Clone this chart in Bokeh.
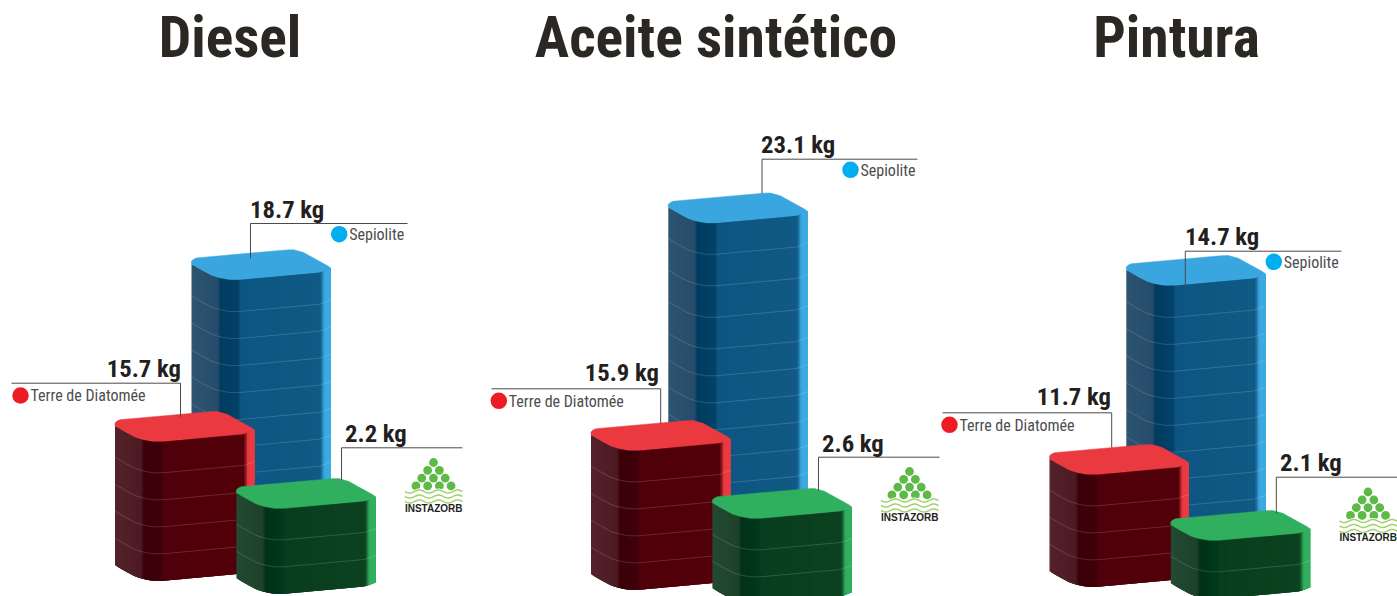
import numpy as np
from bokeh.plotting import figure
from bokeh.models import Range1d
from bokeh.core.properties import value
from bokeh.embed import file_html
from bokeh.resources import INLINE

# ---------- data ----------
panels = ["Diesel", "Aceite sintético", "Pintura"]
materials = ["Sepiolite", "Terre de Diatomée", "INSTAZORB"]
sepiolite_kg = [18.7, 23.1, 14.7]
diatomee_kg = [15.7, 15.9, 11.7]
instazorb_kg = [2.2, 2.6, 2.1]
# the drawn stacks are counted in layers, not scaled in kg
sepiolite_layers = [10, 12, 10]
diatomee_layers = [5, 5, 4]
instazorb_layers = [3, 3, 2]

# ---------- layout (pixels of the 1397x596 page) ----------
FONT = "Roboto Condensed"
W = 139.5
BASE_SHIFT = 0.36  # of the font size: where this text glyph puts its baseline
title_x = [229.5, 715.5, 1176]
bar_x = {"s": [191.0, 667.8, 1125.8], "d": [114.5, 590.5, 1049.0], "i": [235.9, 711.9, 1170.3]}
floor = {"s": [553.7, 564.0, 559.5], "d": [580.0, 589.0, 586.0], "i": [593.0, 603.0, 598.0]}
tall = {"s": [1, 4, 1], "d": [1, 1, 1], "i": [1, 1, 1]}
# leader: elbow x, horizontal y, far end x, foot y, label x, label baseline
lead = {
    "s": [(250.0, 223.0, 407, 258, 249.5, 218), (761.5, 158.7, 917, 193, 760.5, 153), (1184.8, 250.7, 1341, 285, 1184.5, 245)],
    "d": [(180.0, 382.7, 11, 417, 180.5, 377), (660.2, 388.3, 491, 423, 658.5, 381), (1111.2, 412.3, 942, 447, 1110.5, 405)],
    "i": [(341.0, 447.3, 462, 480, 344.5, 441.7), (818.0, 456.7, 939, 490, 821.5, 451.7), (1275.8, 476.7, 1397, 513, 1279.5, 470.7)],
}
legend_dot = {"s": [(338.7, 233.7), (850, 169.3), (1273.3, 261.3)], "d": [(20, 395), (498.3, 400.3), (949, 424.3)]}
logo_origin = [(404.5, 458.5), (880.5, 467.5), (1339, 488)]

palette = {
    "s": dict(top="#39a6df", left0="#2d5470", left1="#264c6c", dark0="#013b60", dark1="#034268", main0="#0d5582", main1="#115a85", rim="#3ba9e2"),
    "d": dict(top="#ea3a40", left0="#54222a", left1="#4c1a22", dark0="#3a0008", dark1="#40000a", main0="#50000a", main1="#52000a", rim="#ea3a40"),
    "i": dict(top="#30b05e", left0="#244a34", left1="#1e4229", dark0="#00321a", dark1="#003a1c", main0="#083e1e", main1="#0c4220", rim="#30b05e"),
}

front_px = [0, 8, 20, 28, 38, 48, 128, 134, W]
front_py = [2.7, 7.5, 14, 16.5, 18.3, 18.3, 11, 9, 7]
back_px = [0, 2, 5, 95, 102, 112, 136, W]
back_py = [0, -2, -3.3, -11.3, -11.5, -8.7, 4.5, 7]
FRONT_TOP = 18.0


def rgb(h):
    return np.array([int(h[i:i + 2], 16) for i in (1, 3, 5)], dtype=float)


def to_hex(c):
    return "#%02x%02x%02x" % tuple(int(round(v)) for v in c)


def strip_color(pal, x):
    stops = [(0, "left0"), (26, "left1"), (29, "dark0"), (47, "dark1"), (49, "main0"), (129, "main1"),
             (133, "rim"), (W, "rim")]
    xs = [s[0] for s in stops]
    cols = np.array([rgb(pal[s[1]]) for s in stops])
    return to_hex([np.interp(x, xs, cols[:, k]) for k in range(3)])


p = figure(width=1397, height=596, output_backend="svg", toolbar_location=None,
           x_range=Range1d(0, 1397), y_range=Range1d(596, 0), min_border=0,
           x_axis_type=None, y_axis_type=None, outline_line_color=None,
           background_fill_color="white", border_fill_color="white")
p.grid.visible = False


def thicknesses(n, n_tall):
    return [31.5 if k < n_tall else 27.0 for k in range(n)]


def put_text(x, base_y, label, size, color, align, font=FONT, style="normal"):
    p.text([x], [base_y - BASE_SHIFT * size], text=[label], text_font=value(font), text_font_style=style,
           text_font_size=f"{size}px", text_color=color, text_align=align, text_baseline="alphabetic")


def draw_bar(key, i, layers):
    pal = palette[key]
    x0 = bar_x[key][i]
    th = thicknesses(layers, tall[key][i])
    stack = sum(th)
    if key == "s" and tall[key][i] == 1:
        th[0] = 32.0
        stack = sum(th)
    y0 = floor[key][i] - stack - FRONT_TOP

    edges = np.arange(0, W + 0.01, 1.5)
    edges[-1] = W
    xs, ys, cs = [], [], []
    for a, b in zip(edges[:-1], edges[1:]):
        b2 = min(b + 3.0, W)
        ya, yb = np.interp([a, b2], front_px, front_py) + y0
        xs.append([x0 + a, x0 + b2, x0 + b2, x0 + a])
        ys.append([ya, yb, yb + stack, ya + stack])
        cs.append(strip_color(pal, (a + b) / 2))
    p.patches(xs, ys, fill_color=cs, line_color=None)

    fine = np.linspace(0, W, 50)
    depth = 0.0
    for t in th[:-1]:
        depth += t
        yl = y0 + np.interp(fine, front_px, front_py) + depth
        p.line(x0 + fine, yl, line_color="#ffffff", line_alpha=0.22, line_width=0.7)

    top_x = list(x0 + np.array(back_px)) + list(x0 + np.array(front_px))[::-1]
    top_y = list(y0 + np.array(back_py)) + list(y0 + np.array(front_py))[::-1]
    p.patch(top_x, top_y, fill_color=pal["top"], line_color=pal["top"], line_width=0.5)


def draw_leader(key, i, label):
    ex, hy, far, foot, lx, by = lead[key][i]
    p.line([far, ex, ex], [hy, hy, foot], line_color="#4a4a4a", line_width=1.0)
    put_text(lx, by, label, 24.7, "#231f20", "right" if key == "d" else "left", style="bold")


def draw_legend(key, i, name, color):
    cx, cy = legend_dot[key][i]
    p.scatter([cx], [cy], size=16.5, marker="circle", fill_color=color, line_color=None)
    put_text(cx + 10, cy + 6, name, 16, "#4d4d4f", "left")


def draw_logo(i):
    ox, oy = logo_origin[i]
    dx, dy = [], []
    for row, n in enumerate([1, 2, 3, 4]):
        for k in range(n):
            dx.append(ox + 28.5 + (k - (n - 1) / 2) * 11.7)
            dy.append(oy + 3.5 + row * 7.8)
    p.scatter(dx, dy, size=8.8, marker="circle", fill_color="#5dba47", line_color=None)
    wx = np.linspace(ox, ox + 57.5, 60)
    for off in (32.5, 37.5, 42.5):
        wy = oy + off + 1.5 * np.sin((wx - ox) / 57.5 * 2 * np.pi * 3)
        p.line(wx, wy, line_color="white", line_width=3.0)
        p.line(wx, wy, line_color="#a2d16b", line_width=1.5)
    put_text(ox + 28.7, oy + 52.8, materials[2], 10, "#231f20", "center", font="Liberation Sans", style="bold")


for i in range(3):
    put_text(title_x[i], 57.5, panels[i], 57.5, "#2b2723", "center", style="bold")
    draw_bar("s", i, sepiolite_layers[i])
    draw_bar("d", i, diatomee_layers[i])
    draw_bar("i", i, instazorb_layers[i])
    draw_leader("s", i, f"{sepiolite_kg[i]} kg")
    draw_leader("d", i, f"{diatomee_kg[i]} kg")
    draw_leader("i", i, f"{instazorb_kg[i]} kg")
    draw_legend("s", i, materials[0], "#00aeef")
    draw_legend("d", i, materials[1], "#ed1c24")
    draw_logo(i)

open("out.html", "w").write(file_html(p, INLINE))
